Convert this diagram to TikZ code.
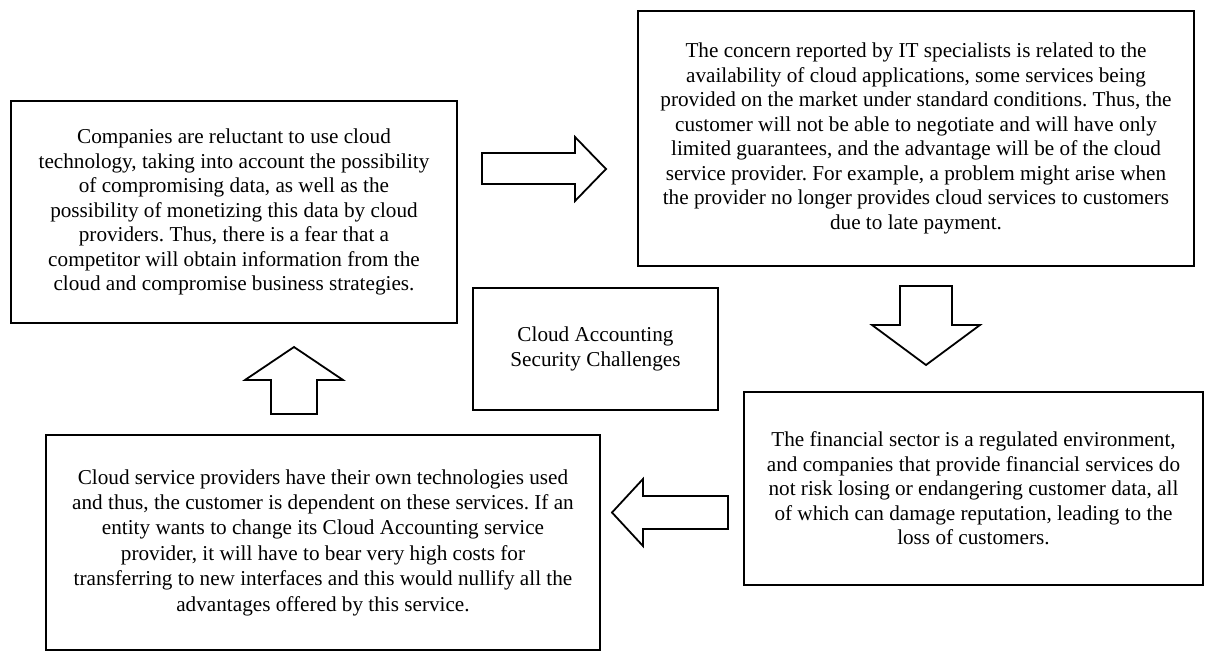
\documentclass[tikz,border=0pt]{standalone}
\usepackage{fontspec}
\setmainfont{Liberation Serif}
\frenchspacing
\begin{document}
\begin{tikzpicture}[x=1pt,y=-1pt,
  box/.style={draw, line width=2.5pt, inner sep=0pt, align=center,
    font=\fontsize{21.2}{24.5}\selectfont},
  blockarrow/.style={draw, line width=1.8pt, line join=miter, fill=white}]
\useasboundingbox (0,0) rectangle (1205,652);
\node[box, minimum width=446, minimum height=222] (b1) at (234,212) {Companies are reluctant to use cloud\\
technology, taking into account the possibility\\
of compromising data, as well as the\\
possibility of monetizing this data by cloud\\
providers. Thus, there is a fear that a\\
competitor will obtain information from the\\
cloud and compromise business strategies.};
\node[box, minimum width=556, minimum height=255] (b2) at (916,138.5) {The concern reported by IT specialists is related to the\\
availability of cloud applications, some services being\\
provided on the market under standard conditions. Thus, the\\
customer will not be able to negotiate and will have only\\
limited guarantees, and the advantage will be of the cloud\\
service provider. For example, a problem might arise when\\
the provider no longer provides cloud services to customers\\
due to late payment.};
\node[box, minimum width=245, minimum height=122] (c) at (595.5,349) {Cloud Accounting\\Security Challenges};
\node[box, minimum width=459, minimum height=193] (b3) at (973.5,488.5) {The financial sector is a regulated environment,\\
and companies that provide financial services do\\
not risk losing or endangering customer data, all\\
of which can damage reputation, leading to the\\
loss of customers.};
\node[box, minimum width=554, minimum height=215, font=\fontsize{21.2}{25.4}\selectfont] (b4) at (323,542.5) {Cloud service providers have their own technologies used\\
and thus, the customer is dependent on these services. If an\\
entity wants to change its Cloud Accounting service\\
provider, it will have to bear very high costs for\\
transferring to new interfaces and this would nullify all the\\
advantages offered by this service.};
% block arrows
\draw[blockarrow] (482,153) -- (575,153) -- (575,137) -- (606,169) -- (575,201) -- (575,184) -- (482,184) -- cycle;
\draw[blockarrow] (900,286) -- (952,286) -- (952,325) -- (980,325) -- (926,365) -- (872,325) -- (900,325) -- cycle;
\draw[blockarrow] (728,496) -- (643,496) -- (643,479) -- (612,512.5) -- (643,546) -- (643,529) -- (728,529) -- cycle;
\draw[blockarrow] (271,414) -- (271,380) -- (245,380) -- (294,347) -- (343,380) -- (317,380) -- (317,414) -- cycle;
\end{tikzpicture}
\end{document}
